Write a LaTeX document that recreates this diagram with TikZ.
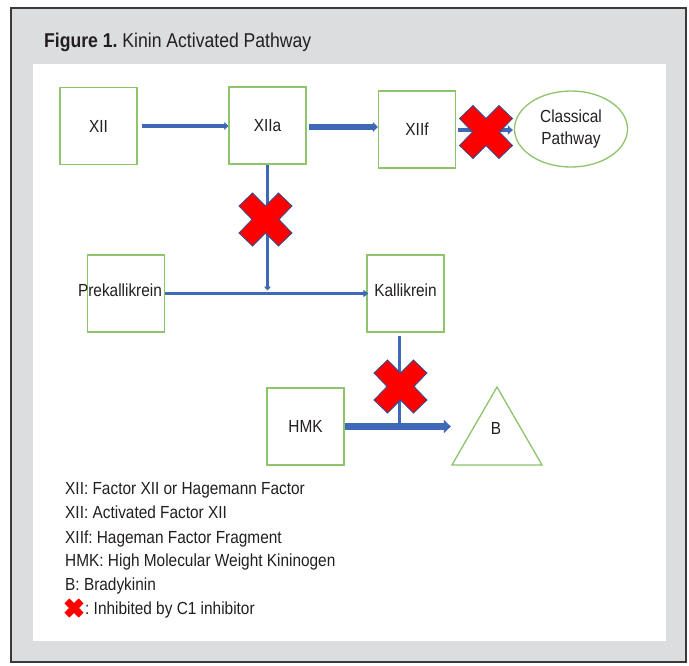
\documentclass[tikz,border=0pt]{standalone}
\usepackage{fontspec}
\setmainfont{Liberation Sans}[FakeStretch=0.88]
\usetikzlibrary{arrows.meta,shapes.geometric}
\frenchspacing
\definecolor{bgray}{HTML}{DCDDDF}
\definecolor{frm}{HTML}{3A3A3A}
\definecolor{grn}{HTML}{8DC46C}
\definecolor{blu}{HTML}{3F68B6}
\definecolor{xred}{HTML}{FF0000}
\definecolor{xedge}{HTML}{2F4F8F}
\definecolor{txt}{HTML}{231F20}
\tikzset{
  xshape/.style={fill=xred,draw=xedge,line width=0.8pt},
  redx/.pic={\filldraw[xshape] (-26.5,-13.5) -- (-13,-26.5) -- (0,-13.5) -- (13,-26.5) -- (26.5,-13.5) -- (13.5,0) -- (26.5,13.5) -- (13,26.5) -- (0,13.5) -- (-13,26.5) -- (-26.5,13.5) -- (-13.5,0) -- cycle;},
  box/.style={draw=grn,line width=1.3pt,minimum size=77pt,inner sep=0pt,font=\fontsize{17.5}{22}\selectfont,text=txt},
  lbl/.style={inner sep=0pt,font=\fontsize{17.5}{22}\selectfont,text=txt},
  leg/.style={anchor=base west,inner sep=0pt,font=\fontsize{17.5}{20}\selectfont,text=txt},
  conn/.style={draw=blu},
}
\begin{document}
\begin{tikzpicture}[x=1pt,y=-1pt]
\useasboundingbox (0,0) rectangle (689,665);
% frame
\filldraw[fill=bgray,draw=frm,line width=2pt] (11,8) rectangle (686,662);
\fill[white] (33,64) rectangle (666,641);
\node[anchor=base west,inner sep=0pt,font=\fontsize{20}{22}\selectfont,text=txt] (title) at (44,47) {\textbf{Figure 1.} Kinin Activated Pathway};

% boxes
\node[box] (xii) at (98.5,126) {XII};
\node[box] (xiia) at (267.5,125.5) {XIIa};
\node[box] (xiif) at (417,129.5) {XIIf};
\node[ellipse,draw=grn,line width=1.3pt,minimum width=113pt,minimum height=76pt,inner sep=0pt,align=center,font=\fontsize{17.5}{22}\selectfont,text=txt] (cp) at (571,129) {Classical\\Pathway};
\node[box] (pre) at (126,293.5) {};
\node[lbl] (pret) at (120,290) {Prekallikrein};
\node[box] (kal) at (405.5,293.5) {};
\node[lbl] (kalt) at (405.5,290) {Kallikrein};
\node[box] (hmk) at (305.5,426.5) {HMK};
\node[draw=grn,line width=1.3pt,regular polygon,regular polygon sides=3,minimum size=104pt,inner sep=0pt] (tri) at (497,439) {};
\node[lbl] (bt) at (496,428) {B};

% connectors
\draw[conn,line width=3.5pt,-{Triangle[length=4pt,width=8pt]}] (xii.east) ++(4,0) coordinate (a0) -- (a0 -| xiia.west);
\draw[conn,line width=5.5pt,-{Triangle[length=5pt,width=10pt]}] (xiia.east) ++(2,1.5) coordinate (a1) -- (a1 -| xiif.west);
\draw[conn,line width=4.5pt,-{Triangle[length=5pt,width=9pt]},shorten >=1pt] (xiif.east) ++(2,0.5) coordinate (a2) -- (a2 -| cp.west);
\draw[conn,line width=3.5pt,-{Triangle[length=4pt,width=7pt]},shorten >=3pt] (xiia.south) -- (xiia.south |- pre.center);
\draw[conn,line width=3.5pt,-{Triangle[length=5pt,width=7pt]},shorten >=-2pt] (pre.east) -- (kal.west);
\draw[conn,line width=3.5pt] (kal.south) ++(-6,3) coordinate (a3) -- (a3 |- hmk.east);
\draw[conn,line width=6.5pt,-{Triangle[length=7pt,width=13pt]}] (hmk.east) -- (hmk.east -| tri.corner 2);

% inhibition crosses
\pic (x1) at (486,132) {redx};
\pic (x2) at (265.5,219.5) {redx};
\pic (x3) at (400.5,386.5) {redx};

% legend
\node[leg] (l1) at (65,494) {XII: Factor XII or Hagemann Factor};
\node[leg] (l2) at (65,518) {XII: Activated Factor XII};
\node[leg] (l3) at (65,543) {XIIf: Hageman Factor Fragment};
\node[leg] (l4) at (65,566) {HMK: High Molecular Weight Kininogen};
\node[leg] (l5) at (65,590) {B: Bradykinin};
\pic[scale=0.35,xshape/.style={fill=xred,draw=xred,line width=0.3pt}] (lx) at (74,608) {redx};
\node[leg] (l6) at (85,614) {: Inhibited by C1 inhibitor};
\end{tikzpicture}
\end{document}
